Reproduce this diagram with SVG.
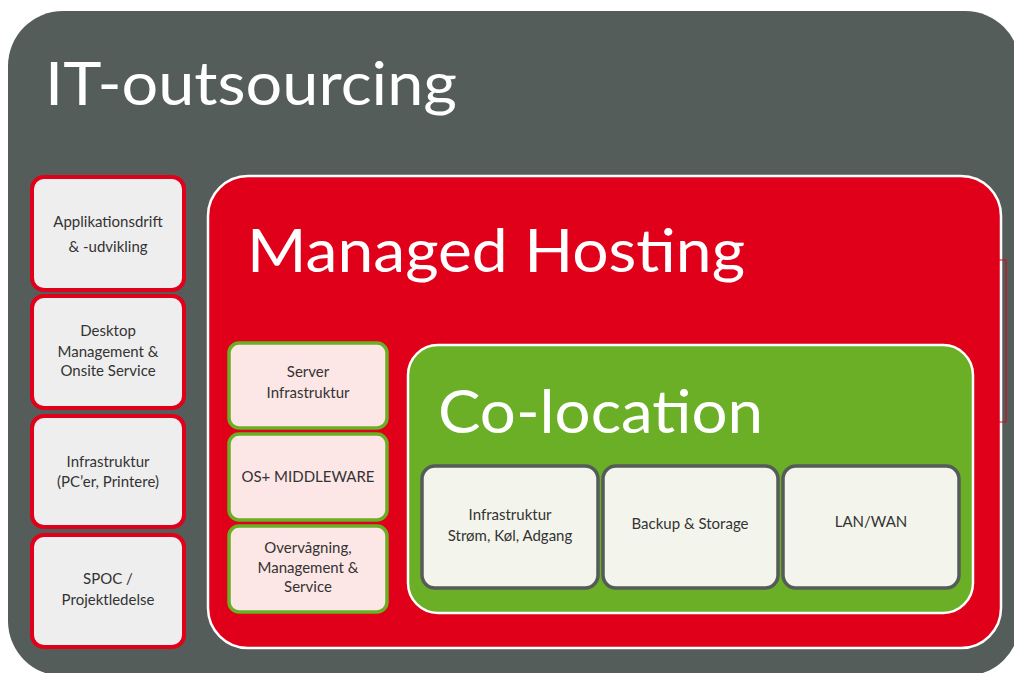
<svg xmlns="http://www.w3.org/2000/svg" width="1014" height="673" viewBox="0 0 1014 673">
<style>
.title{font-family:Lato,"Open Sans","Liberation Sans",sans-serif;font-weight:400;fill:#ffffff}
.lbl{font-family:Lato,"Open Sans","Liberation Sans",sans-serif;font-size:15px;fill:#333333;text-anchor:middle}
.leftbox{fill:#eeeeee;stroke:#e0001a;stroke-width:4}
.midbox{fill:#fde6e6;stroke:#6aaf26;stroke-width:3.5}
.colbox{fill:#f3f5ec;stroke:#555b59;stroke-width:3.5}
</style>
<rect width="1014" height="673" fill="#ffffff"/>
<g id="it-outsourcing">
<rect x="8" y="11" width="1012" height="665" rx="55" fill="#555d5b"/>
<text class="title" x="45" y="105" font-size="60" textLength="412" lengthAdjust="spacingAndGlyphs">IT-outsourcing</text>
</g>
<g id="left-column">
<g id="applikationsdrift"><rect class="leftbox" x="32" y="177" width="152" height="113" rx="12"/>
<text class="lbl" x="108" y="227">Applikationsdrift</text><text class="lbl" x="108" y="252">&amp; -udvikling</text></g>
<g id="desktop"><rect class="leftbox" x="32" y="296" width="152" height="112" rx="12"/>
<text class="lbl" x="108" y="336">Desktop</text><text class="lbl" x="108" y="357">Management &amp;</text><text class="lbl" x="108" y="376">Onsite Service</text></g>
<g id="infrastruktur-pc"><rect class="leftbox" x="32" y="416" width="152" height="111" rx="12"/>
<text class="lbl" x="108" y="467">Infrastruktur</text><text class="lbl" x="108" y="487">(PC’er, Printere)</text></g>
<g id="spoc"><rect class="leftbox" x="32" y="535" width="152" height="112" rx="12"/>
<text class="lbl" x="108" y="584">SPOC /</text><text class="lbl" x="108" y="605">Projektledelse</text></g>
</g>
<g id="managed-hosting">
<rect x="208" y="176" width="793" height="472" rx="40" fill="#e0001a" stroke="#ffffff" stroke-width="2.5"/>
<rect x="997" y="260" width="9" height="162" fill="none" stroke="#e0001a" stroke-width="1"/>
<text class="title" x="247" y="272" font-size="60" textLength="498" lengthAdjust="spacingAndGlyphs">Managed Hosting</text>
</g>
<g id="middle-column">
<g id="server"><rect class="midbox" x="229" y="343" width="158" height="85" rx="10"/>
<text class="lbl" x="308" y="377">Server</text><text class="lbl" x="308" y="398">Infrastruktur</text></g>
<g id="os"><rect class="midbox" x="229" y="434" width="158" height="86" rx="10"/>
<text class="lbl" x="308" y="482">OS+ MIDDLEWARE</text></g>
<g id="overvaagning"><rect class="midbox" x="229" y="526" width="158" height="86" rx="10"/>
<text class="lbl" x="308" y="553">Overvågning,</text><text class="lbl" x="308" y="573">Management &amp;</text><text class="lbl" x="308" y="592">Service</text></g>
</g>
<g id="co-location">
<rect x="408" y="345" width="565" height="268" rx="30" fill="#6aaf26" stroke="#ffffff" stroke-width="2.5"/>
<text class="title" x="438" y="433" font-size="60" textLength="325" lengthAdjust="spacingAndGlyphs">Co-location</text>
</g>
<g id="colocation-boxes">
<g id="infra-power"><rect class="colbox" x="422" y="466" width="176" height="122" rx="13"/>
<text class="lbl" x="510" y="520">Infrastruktur</text><text class="lbl" x="510" y="541">Strøm, Køl, Adgang</text></g>
<g id="backup"><rect class="colbox" x="603" y="466" width="175" height="122" rx="13"/>
<text class="lbl" x="690" y="529">Backup &amp; Storage</text></g>
<g id="lanwan"><rect class="colbox" x="783" y="466" width="176" height="122" rx="13"/>
<text class="lbl" x="871" y="527">LAN/WAN</text></g>
</g>
<g id="connectors"/>
</svg>
